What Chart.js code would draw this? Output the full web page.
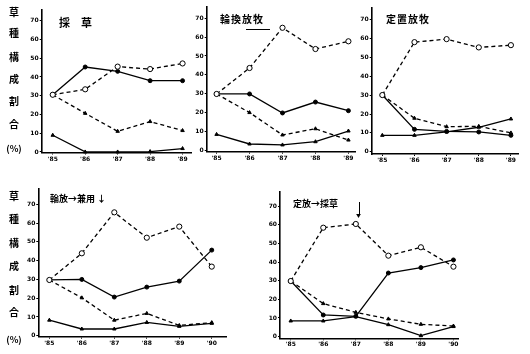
<!DOCTYPE html>
<html>
<head>
<meta charset="utf-8">
<script src="https://cdn.jsdelivr.net/npm/chart.js@4"></script>
<style>
  body { margin: 0; background: #fff; }
  #wrap { position: relative; width: 530px; height: 354px; overflow: hidden; }
  #wrap canvas { position: absolute; left: 0; top: 0; }
  .lab { position: absolute; font-family: "Noto Sans CJK JP", sans-serif; font-weight: 700; color: #000; white-space: nowrap; line-height: 1; }
  .side { position: absolute; width: 20px; text-align: center; font-family: "Noto Sans CJK JP", sans-serif; font-weight: 700; font-size: 10px; line-height: 1; }
  .rule { position: absolute; background: #000; }
</style>
</head>
<body>
<div id="wrap">
  <canvas id="c1" width="530" height="354"></canvas>
  <canvas id="c2" width="530" height="354"></canvas>
  <canvas id="c3" width="530" height="354"></canvas>
  <canvas id="c4" width="530" height="354"></canvas>
  <canvas id="c5" width="530" height="354"></canvas>
</div>
<script>
const years5 = [85, 86, 87, 88, 89];
const years6 = [85, 86, 87, 88, 89, 90];
const yTicks = [0, 10, 20, 30, 40, 50, 60, 70];
const sideLabel = ['草', '種', '構', '成', '割', '合', '(%)'];

// 採草
const p1Open = [30.5, 33.4, 45.5, 44.2, 47.2];
const p1Solid = [30.5, 45.3, 43, 38, 38];
const p1Dash = [30.5, 20.6, 11, 16.2, 11.4];
const p1Low = [8.9, 0, 0, 0.2, 1.8];

// 輪換放牧
const p2Open = [29.8, 43.6, 65, 53.7, 57.8];
const p2Solid = [29.8, 29.8, 19.7, 25.5, 20.9];
const p2Dash = [29.8, 19.9, 8, 11.3, 5.3];
const p2Low = [8.3, 3.2, 2.7, 4.4, 10.1];

// 定置放牧
const p3Open = [30.1, 58.2, 59.8, 55.4, 56.6];
const p3Solid = [30.1, 11.9, 10.8, 10.5, 8.7];
const p3Dash = [30.1, 17.8, 13.3, 13.5, 10];
const p3Low = [8.7, 8.7, 10.5, 13, 17.4];

// 輪放→兼用
const p4Open = [29.7, 43.9, 65.7, 52.2, 58.1, 36.8];
const p4Solid = [29.7, 30, 20.6, 25.9, 29.1, 45.6];
const p4Dash = [29.7, 20.2, 8.3, 11.9, 5.5, 7];
const p4Low = [8.3, 3.6, 3.6, 7.1, 5, 6.6];

// 定放→採草
const p5Open = [29.8, 58.4, 60.4, 43.4, 47.9, 37.5];
const p5Solid = [29.8, 11.6, 10.9, 34.1, 37, 41.1];
const p5Dash = [29.8, 17.7, 13, 9.5, 6.6, 5.7];
const p5Low = [8.4, 8.4, 10.7, 6.4, 0.5, 5.4];

const tickFont = { family: 'DejaVu Sans', size: 6, weight: 'bold' };

function pts(years, vals) {
  return years.map((y, i) => ({ x: y, y: vals[i] }));
}

function makePanel(id, years, open, solid, dash, low, box) {
  const line = (vals, dashed, style, fill, r) => ({
    data: pts(years, vals),
    borderColor: '#000',
    borderWidth: 1.3,
    borderDash: dashed ? [4, 3] : [],
    pointStyle: style,
    pointRadius: r,
    pointBackgroundColor: fill,
    pointBorderColor: '#000',
    pointBorderWidth: 1,
    tension: 0,
    clip: false
  });
  new Chart(document.getElementById(id), {
    type: 'line',
    data: {
      datasets: [
        line(open, true, 'circle', '#fff', 2.6),
        line(solid, false, 'circle', '#000', 2),
        line(dash, true, 'triangle', '#000', 2),
        line(low, false, 'triangle', '#000', 2)
      ]
    },
    options: {
      responsive: false,
      animation: false,
      layout: { padding: { left: box.left - 14, right: 530 - box.right, top: box.top, bottom: 354 - box.bottom - 12 } },
      plugins: { legend: { display: false }, tooltip: { enabled: false } },
      scales: {
        x: {
          type: 'linear',
          min: box.xMin,
          max: box.xMax,
          afterFit: s => { s.height = 12; },
          afterBuildTicks: s => { s.ticks = years.map(v => ({ value: v })); },
          border: { color: '#000', width: 1.6 },
          grid: { drawOnChartArea: false, color: '#000', tickLength: 2 },
          ticks: { font: tickFont, color: '#000', padding: 1, maxRotation: 0, callback: v => "'" + v }
        },
        y: {
          min: box.yMin,
          max: box.yMax,
          afterFit: s => { s.width = 14; },
          afterBuildTicks: s => { s.ticks = yTicks.map(v => ({ value: v })); },
          border: { color: '#000', width: 1.6 },
          grid: { drawOnChartArea: false, color: '#000', tickLength: 2 },
          ticks: { font: tickFont, color: '#000', padding: 1 }
        }
      }
    }
  });
}

makePanel('c1', years5, p1Open, p1Solid, p1Dash, p1Low,
  { left: 41.7, right: 191, top: 10, bottom: 152.5, xMin: 84.66, xMax: 89.26, yMin: -0.3, yMax: 75.7 });
makePanel('c2', years5, p2Open, p2Solid, p2Dash, p2Low,
  { left: 206.7, right: 355, top: 6.7, bottom: 151.7, xMin: 84.7, xMax: 89.2, yMin: -0.9, yMax: 76.2 });
makePanel('c3', years5, p3Open, p3Solid, p3Dash, p3Low,
  { left: 371.7, right: 518, top: 7.3, bottom: 154, xMin: 84.67, xMax: 89.22, yMin: -1.2, yMax: 76.7 });
makePanel('c4', years6, p4Open, p4Solid, p4Dash, p4Low,
  { left: 38.3, right: 226.7, top: 188.3, bottom: 336.7, xMin: 84.66, xMax: 90.46, yMin: -0.5, yMax: 78.5 });
makePanel('c5', years6, p5Open, p5Solid, p5Dash, p5Low,
  { left: 280, right: 458, top: 191.7, bottom: 338.3, xMin: 84.67, xMax: 90.14, yMin: -0.9, yMax: 77.7 });

// side labels and panel titles as text
const wrap = document.getElementById('wrap');
function addText(cls, txt, x, y, size) {
  const d = document.createElement('div');
  d.className = cls;
  d.textContent = txt;
  d.style.left = x + 'px';
  d.style.top = y + 'px';
  if (size) d.style.fontSize = size + 'px';
  wrap.appendChild(d);
  return d;
}
function addRule(x, y, w, h) {
  const d = document.createElement('div');
  d.className = 'rule';
  d.style.left = x + 'px';
  d.style.top = y + 'px';
  d.style.width = w + 'px';
  d.style.height = h + 'px';
  wrap.appendChild(d);
}
const sideTop = [7, 28, 52, 74, 96, 119, 144];
const sideBottom = [191, 214, 238, 261, 285, 307, 335];
sideLabel.forEach((t, i) => {
  addText('side', t, 4, sideTop[i], t.length > 1 ? 9 : 10);
  addText('side', t, 4, sideBottom[i], t.length > 1 ? 9 : 10);
});

addText('lab', '採\u3000草', 59, 17, 11);
const t2 = addText('lab', '輪換放牧', 220, 14, 10);
t2.style.letterSpacing = '1px';
addRule(246, 29, 24, 1);
const t3 = addText('lab', '定置放牧', 386, 14, 10);
t3.style.letterSpacing = '1px';
addText('lab', '輪放→兼用 ↓', 50, 194, 9);
addText('lab', '定放→採草', 293, 199, 9);
addRule(359, 202, 1, 12);
addText('lab', '▼', 356, 212, 5);
</script>
</body>
</html>
